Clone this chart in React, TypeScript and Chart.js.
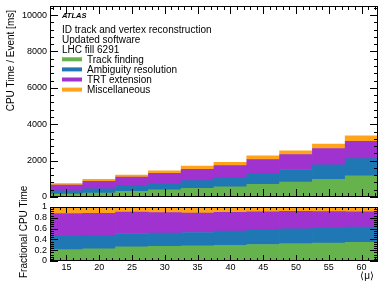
import React, { useEffect, useRef } from "react";
import { Chart, registerables } from "chart.js";

Chart.register(...registerables);

// ---- data ----
const binCenters = [15, 20, 25, 30, 35, 40, 45, 50, 55, 60];
const trackFinding = [156, 220, 315, 395, 480, 556, 690, 820, 965, 1168];
const ambiguityResolution = [188, 235, 300, 355, 420, 500, 610, 692, 805, 940];
const trtExtension = [310, 400, 475, 545, 615, 667, 756, 820, 890, 955];
const miscellaneous = [90, 112, 116, 150, 190, 188, 205, 207, 250, 293];
const seriesLabels = ["Track finding", "Ambiguity resolution", "TRT extension", "Miscellaneous"];
const seriesColors = ["#66b24d", "#1f77b4", "#a032cf", "#ffa41a"];
const xTickValues = [15, 20, 25, 30, 35, 40, 45, 50, 55, 60];
const topYTickValues = [0, 2000, 4000, 6000, 8000, 10000];
const bottomYTickValues = [0, 0.2, 0.4, 0.6, 0.8, 1];
const atlasLabel = "ATLAS";
const infoLines = ["ID track and vertex reconstruction", "Updated software", "LHC fill 6291"];
const topYTitle = "CPU Time / Event [ms]";
const bottomYTitle = "Fractional CPU Time";
const xTitle = "\u27E8\u03BC\u27E9";

const FONT = '"Liberation Sans", Arial, Helvetica, sans-serif';

type TickSpec = { min: number; max: number; minor: number; major: number; majLen: number; minLen: number };

function tickValues(spec: TickSpec) {
  const out: { v: number; major: boolean }[] = [];
  const start = Math.ceil(spec.min / spec.minor - 1e-9);
  const end = Math.floor(spec.max / spec.minor + 1e-9);
  for (let i = start; i <= end; i++) {
    const v = i * spec.minor;
    const r = v / spec.major;
    out.push({ v, major: Math.abs(r - Math.round(r)) < 1e-6 });
  }
  return out;
}

function framePlugin(xs: TickSpec, ys: TickSpec) {
  return {
    id: "frameTicks",
    afterDatasetsDraw(chart: any) {
      const { ctx, chartArea: a, scales } = chart;
      const x = scales.x;
      const y = scales.y;
      ctx.save();
      ctx.strokeStyle = "#000";
      ctx.lineWidth = 1;
      ctx.beginPath();
      for (const t of tickValues(xs)) {
        const px = Math.round(x.getPixelForValue(t.v)) + 0.5;
        const len = t.major ? xs.majLen : xs.minLen;
        ctx.moveTo(px, a.bottom);
        ctx.lineTo(px, a.bottom - len);
        ctx.moveTo(px, a.top);
        ctx.lineTo(px, a.top + len);
      }
      for (const t of tickValues(ys)) {
        const py = Math.round(y.getPixelForValue(t.v)) + 0.5;
        const len = t.major ? ys.majLen : ys.minLen;
        ctx.moveTo(a.left, py);
        ctx.lineTo(a.left + len, py);
        ctx.moveTo(a.right, py);
        ctx.lineTo(a.right - len, py);
      }
      ctx.stroke();
      ctx.strokeRect(a.left + 0.5, a.top + 0.5, a.right - a.left - 1, a.bottom - a.top - 1);
      ctx.restore();
    },
  };
}

const topTextPlugin = {
  id: "topTexts",
  afterDraw(chart: any) {
    const ctx = chart.ctx;
    ctx.save();
    ctx.fillStyle = "#000";
    ctx.textAlign = "left";
    ctx.textBaseline = "alphabetic";
    ctx.font = `bold italic 7.5px ${FONT}`;
    ctx.fillText(atlasLabel, 62, 18.4);
    ctx.font = `10px ${FONT}`;
    infoLines.forEach((s, i) => ctx.fillText(s, 62, 32.9 + i * 9.85));
    chart.data.datasets.forEach((ds: any, i: number) => {
      ctx.fillStyle = ds.backgroundColor;
      ctx.fillRect(62, 57.3 + i * 10.1, 20, 4);
      ctx.fillStyle = "#000";
      ctx.fillText(ds.label, 87, 62.6 + i * 10.1);
    });
    ctx.translate(14, 10);
    ctx.rotate(-Math.PI / 2);
    ctx.textAlign = "right";
    ctx.fillText(topYTitle, 0, 0);
    ctx.restore();
  },
};

const bottomTextPlugin = {
  id: "bottomTexts",
  afterDraw(chart: any) {
    const ctx = chart.ctx;
    ctx.save();
    ctx.fillStyle = "#000";
    ctx.font = `10px ${FONT}`;
    ctx.textAlign = "right";
    ctx.textBaseline = "middle";
    ctx.fillText(xTitle, 374, 101);
    ctx.translate(26.6, 103);
    ctx.rotate(-Math.PI / 2);
    ctx.textAlign = "left";
    ctx.textBaseline = "alphabetic";
    ctx.fillText(bottomYTitle, 0, 0);
    ctx.restore();
  },
};

const seriesValues = [trackFinding, ambiguityResolution, trtExtension, miscellaneous];

function fixTicks(values: number[]) {
  return (scale: any) => {
    scale.ticks = values.map((v) => ({ value: v }));
  };
}

function zeroPad(scale: any) {
  scale.paddingTop = 0;
  scale.paddingBottom = 0;
  scale.paddingLeft = 0;
  scale.paddingRight = 0;
}

export default function App() {
  const topRef = useRef<HTMLCanvasElement>(null);
  const botRef = useRef<HTMLCanvasElement>(null);

  useEffect(() => {
    const totals = binCenters.map((_, i) => seriesValues.reduce((s, arr) => s + arr[i], 0));

    const mkDatasets = (fraction: boolean) =>
      seriesValues.map((arr, k) => ({
        label: seriesLabels[k],
        data: binCenters.map((x, i) => ({ x, y: fraction ? arr[i] / totals[i] : arr[i] })),
        backgroundColor: seriesColors[k],
        borderWidth: 0,
        barPercentage: 1,
        categoryPercentage: 1,
      }));

    const tickFont = { family: FONT, size: 9 };

    const top = new Chart(topRef.current!, {
      type: "bar",
      data: { datasets: mkDatasets(false) as any },
      options: {
        animation: false,
        responsive: false,
        devicePixelRatio: 1,
        layout: { padding: { top: 6, right: 9, bottom: 3, left: 0 } },
        plugins: { legend: { display: false }, tooltip: { enabled: false } },
        scales: {
          x: {
            type: "linear",
            min: 12.5,
            max: 62.5,
            offset: false,
            stacked: true,
            display: false,
            afterBuildTicks: fixTicks(xTickValues),
          },
          y: {
            stacked: true,
            min: 0,
            max: 10500,
            afterBuildTicks: fixTicks(topYTickValues),
            afterFit: (s: any) => {
              s.width = 50;
              zeroPad(s);
            },
            grid: { display: false, drawTicks: false },
            border: { display: false },
            ticks: { font: tickFont, color: "#000", padding: 3, autoSkip: false, callback: (v: any) => String(v) },
          },
        },
      },
      plugins: [
        framePlugin(
          { min: 12.5, max: 62.5, minor: 1, major: 5, majLen: 8, minLen: 4 },
          { min: 0, max: 10500, minor: 400, major: 2000, majLen: 8, minLen: 4 }
        ),
        topTextPlugin,
      ],
    } as any);

    const bottom = new Chart(botRef.current!, {
      type: "bar",
      data: { datasets: mkDatasets(true) as any },
      options: {
        animation: false,
        responsive: false,
        devicePixelRatio: 1,
        layout: { padding: { top: 32, right: 9, bottom: 0, left: 0 } },
        plugins: { legend: { display: false }, tooltip: { enabled: false } },
        scales: {
          x: {
            type: "linear",
            min: 12.5,
            max: 62.5,
            offset: false,
            stacked: true,
            afterBuildTicks: fixTicks(xTickValues),
            afterFit: (s: any) => {
              s.height = 30;
              zeroPad(s);
            },
            grid: { display: false, drawTicks: false },
            border: { display: false },
            ticks: {
              font: tickFont,
              color: "#000",
              padding: 1,
              maxRotation: 0,
              autoSkip: false,
              callback: (v: any) => String(v),
            },
          },
          y: {
            stacked: true,
            min: 0,
            max: 1,
            afterBuildTicks: fixTicks(bottomYTickValues),
            afterFit: (s: any) => {
              s.width = 50;
              zeroPad(s);
            },
            grid: { display: false, drawTicks: false },
            border: { display: false },
            ticks: {
              font: tickFont,
              color: "#000",
              padding: 3,
              autoSkip: false,
              callback: (v: any) => String(Math.round(v * 10) / 10),
            },
          },
        },
      },
      plugins: [
        framePlugin(
          { min: 12.5, max: 62.5, minor: 1, major: 5, majLen: 6, minLen: 3 },
          { min: 0, max: 1, minor: 0.04, major: 0.2, majLen: 8, minLen: 4 }
        ),
        bottomTextPlugin,
      ],
    } as any);

    return () => {
      top.destroy();
      bottom.destroy();
    };
  }, []);

  return (
    <div style={{ position: "fixed", left: 0, top: 0, width: 387, height: 291, background: "#fff" }}>
      <canvas ref={botRef} width={387} height={116} style={{ position: "absolute", left: 0, top: 175 }} />
      <canvas ref={topRef} width={387} height={200} style={{ position: "absolute", left: 0, top: 0 }} />
    </div>
  );
}
